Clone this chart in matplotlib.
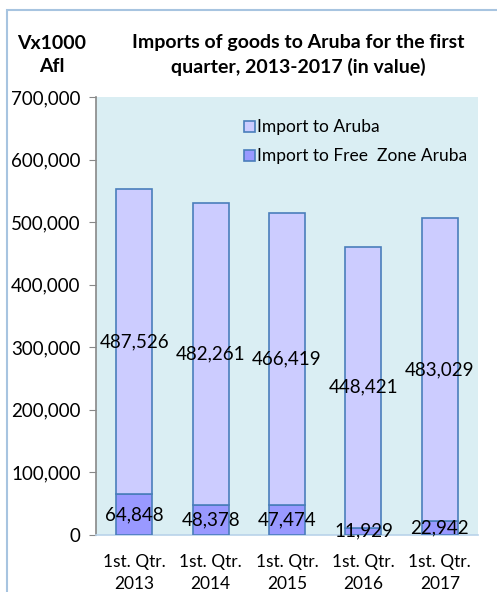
import matplotlib
matplotlib.use("Agg")
import matplotlib.pyplot as plt
from matplotlib.patches import Rectangle
from matplotlib.ticker import FuncFormatter

categories = ["1st. Qtr.\n2013", "1st. Qtr.\n2014", "1st. Qtr.\n2015", "1st. Qtr.\n2016", "1st. Qtr.\n2017"]
free_zone = [64848, 48378, 47474, 11929, 22942]
aruba = [487526, 482261, 466419, 448421, 483029]
series_names = ["Import to Aruba", "Import to Free  Zone Aruba"]

plt.rcParams['font.family'] = ['Lato', 'DejaVu Sans']

W, H = 497, 592
fig = plt.figure(figsize=(W / 100, H / 100), dpi=100)
fig.patches.append(Rectangle((7 / W, -0.1), 1.1, 1 - 10 / H + 0.1, transform=fig.transFigure,
                             fill=False, edgecolor="#A7C4E0", linewidth=1.5))

ax = fig.add_axes([96 / W, 1 - 535 / H, (478 - 96) / W, (535 - 97) / H])
ax.set_facecolor("#DAEEF3")

x = list(range(len(categories)))
edge = "#4A7EBB"
b1 = ax.bar(x, free_zone, width=0.47, color="#9999FF", edgecolor=edge, linewidth=1.2,
            label=series_names[1], zorder=3)
b2 = ax.bar(x, aruba, width=0.47, bottom=free_zone, color="#CCCCFF", edgecolor=edge, linewidth=1.2,
            label=series_names[0], zorder=3)

for xi, fz, ar in zip(x, free_zone, aruba):
    ax.text(xi, fz / 2, f"{fz:,}", ha="center", va="center", fontsize=13.5, color="black", zorder=4)
    ax.text(xi, fz + ar / 2, f"{ar:,}", ha="center", va="center", fontsize=13.5, color="black", zorder=4)

ax.set_xlim(-0.5, 4.5)
ax.set_ylim(0, 700000)
ax.set_yticks(range(0, 700001, 100000))
ax.yaxis.set_major_formatter(FuncFormatter(lambda v, p: f"{int(v):,}"))
ax.set_xticks(x)
ax.set_xticklabels(categories, fontsize=12.5, linespacing=1.45)
ax.tick_params(axis="y", labelsize=13.5, length=5, color="#888888", direction="out", pad=6)
ax.tick_params(axis="x", length=0, pad=14)
for s in ["top", "right"]:
    ax.spines[s].set_visible(False)
ax.spines["left"].set_color("#888888")
ax.spines["left"].set_linewidth(1.2)
ax.spines["bottom"].set_color("#B9D3EA")
ax.spines["bottom"].set_linewidth(1.2)

handles = [b2, b1]
leg = ax.legend(handles, series_names, loc="upper left", bbox_to_anchor=(0.37, 0.965),
                frameon=False, fontsize=12.5, handlelength=0.6, handleheight=0.6,
                handletextpad=0.15, labelspacing=0.75, borderaxespad=0)

fig.text(298 / W, 1 - 55 / H, "Imports of goods to Aruba for the first\nquarter, 2013-2017 (in value)",
         ha="center", va="center", fontsize=14, fontweight="bold", linespacing=1.45)
fig.text(52 / W, 1 - 55 / H, "Vx1000\nAfl", ha="center", va="center", fontsize=14,
         fontweight="bold", linespacing=1.45)

fig.savefig("out.png", dpi=100)
